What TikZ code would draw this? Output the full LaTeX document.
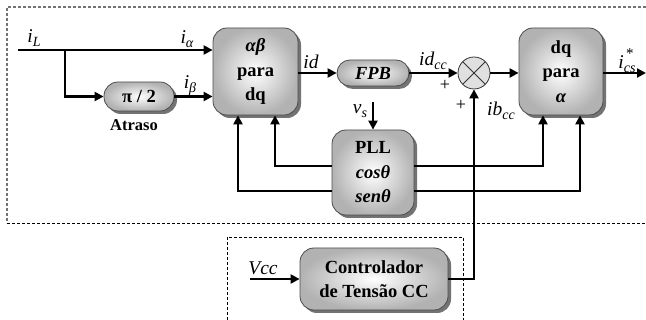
\documentclass[tikz,border=0pt]{standalone}
\usepackage{fontspec}
\setmainfont{Liberation Serif}
\usetikzlibrary{arrows.meta,shadows,calc}
\newcommand\lb[2]{\textit{#1}\raisebox{-0.45ex}{\fontsize{14}{14}\selectfont\textit{#2}}}
\begin{document}
\begin{tikzpicture}[x=1pt,y=-1pt,
  arr/.style={line width=2.2pt,-{Triangle[length=9pt,width=9pt]}},
  blk/.style={draw=black!70,line width=0.8pt,rounded corners=#1,
    inner color=white,outer color=black!30,
    drop shadow={shadow xshift=3pt,shadow yshift=-3pt,fill=black!55,opacity=1},
    font=\fontsize{18.5}{24.5}\selectfont\bfseries,align=center,inner sep=0pt},
  blk/.default=14pt,
  lab/.style={font=\fontsize{19.5}{19.5}\selectfont,inner sep=0pt},
  pm/.style={font=\fontsize{18}{18}\selectfont,inner sep=0pt}]
\useasboundingbox (0,0) rectangle (646,320);
% frames
\draw[black!55,dashed,line width=1.2pt,dash pattern=on 3pt off 2pt] (646,7) -- (7,7) -- (7,223);
\draw[black,dashed,line width=0.8pt,dash pattern=on 3pt off 2pt] (7,223) -- (646,223);
\draw[black,dashed,line width=0.7pt,dash pattern=on 3pt off 2pt] (227,320) -- (227,237) -- (463,237) -- (463,320);
% blocks
\node[blk,minimum width=85pt,minimum height=87pt] (ab) at (255.5,71.5) {\textit{αβ}\\para\\dq};
\node[blk,minimum width=84pt,minimum height=87pt] (dq) at (561,71.5) {dq\\para\\\textit{α}};
\node[blk=14pt,minimum width=70pt,minimum height=29pt] (pi) at (139,96.5) {π / 2};
\node[blk=13pt,minimum width=72pt,minimum height=26pt] (fpb) at (373,73) {\textit{FPB}};
\node[blk,minimum width=82pt,minimum height=85pt] (pll) at (373,172.5) {PLL\\\textit{cosθ}\\\textit{senθ}};
\node[blk,minimum width=148pt,minimum height=62pt] (ctl) at (374,279) {Controlador\\de Tensão CC};
\node[circle,draw=black!80,line width=0.8pt,fill=black!12,minimum size=32pt,inner sep=0pt,
  path picture={\draw[line width=0.9pt] (path picture bounding box.south west)--(path picture bounding box.north east)
    (path picture bounding box.north west)--(path picture bounding box.south east);}] (sum) at (474,73) {};
% coordinates
\coordinate (iL) at (18,50);
\coordinate (br) at (65,50);
\coordinate (out) at (646,73);
\coordinate (vs) at (373,102);
\coordinate (vcc) at (250,279);
\coordinate (cosrow) at (0,166);
\coordinate (senrow) at (0,191);
\coordinate (colA) at (238,0);
\coordinate (colB) at (275,0);
\coordinate (colC) at (543,0);
\coordinate (colD) at (580,0);
% connectors
\draw[arr] (iL) -- (ab.west|-iL);
\draw[arr] (br) |- (pi.west);
\draw[arr] (pi.east) -- (ab.west|-pi.east);
\draw[arr] (ab.east|-fpb.west) -- (fpb.west);
\draw[arr] (fpb.east) -- (sum.west);
\draw[arr] (sum.east) -- (dq.west|-sum.east);
\draw[arr] (dq.east|-out) -- (out);
\draw[arr] (vs) -- (pll.north);
\draw[arr] (pll.west|-senrow) -| (ab.south-|colA);
\draw[arr] (pll.west|-cosrow) -| (ab.south-|colB);
\draw[arr] (pll.east|-cosrow) -| (dq.south-|colC);
\draw[arr] (pll.east|-senrow) -| (dq.south-|colD);
\draw[arr] (ctl.east) -| (sum.south);
\draw[arr] (vcc) -- (ctl.west);
% labels
\node[lab] at (34,38) {\lb{i}{L}};
\node[lab] at (187,39) {\lb{i}{α}};
\node[lab] at (190,86) {\lb{i}{β}};
\node[lab,font=\fontsize{16.5}{16.5}\selectfont\bfseries] at (134,125) {Atraso};
\node[lab] at (311,62) {\textit{id}};
\node[lab] at (433,61) {\lb{id}{cc}};
\node[pm] at (445,85) {+};
\node[pm] at (461,105) {+};
\node[lab] at (501,111) {\lb{ib}{cc}};
\node[lab] at (627,61) {\textit{i}\rlap{\hspace{0.12em}\raisebox{1.15ex}{\fontsize{15}{15}\selectfont *}}\raisebox{-0.45ex}{\fontsize{14}{14}\selectfont\textit{cs}}};
\node[lab] at (360,111) {\lb{v}{s}};
\node[lab] at (263,268) {\textit{Vcc}};
\end{tikzpicture}
\end{document}
